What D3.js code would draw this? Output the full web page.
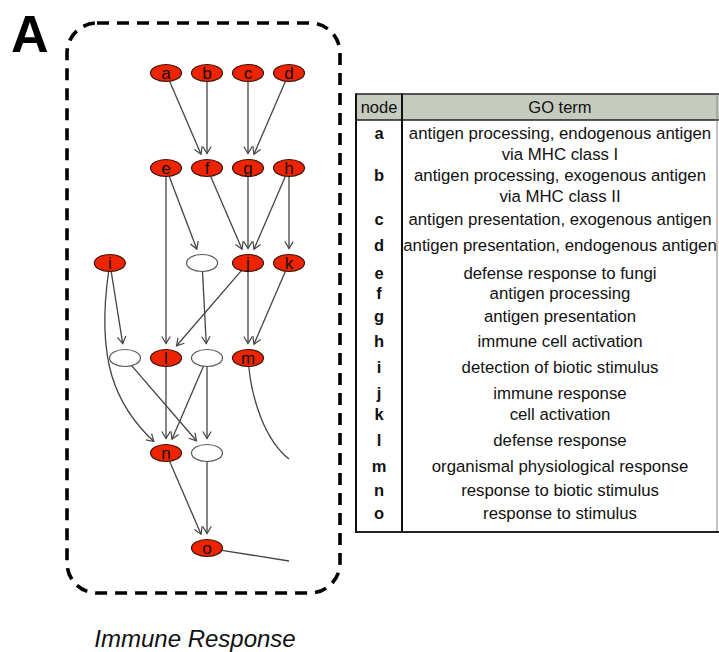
<!DOCTYPE html>
<html>
<head>
<meta charset="utf-8">
<script src="https://cdn.jsdelivr.net/npm/d3@7"></script>
<style>
  html, body { margin: 0; padding: 0; background: #fff; }
  svg { display: block; font-family: "Liberation Sans", Arial, Helvetica, sans-serif; }
</style>
</head>
<body>
<svg id="fig" width="719" height="652"></svg>
<script>
// ---- GO terms listed in the table ----
const termNodes = ["a","b","c","d","e","f","g","h","i","j","k","l","m","n","o"];
const termLines = [
  ["antigen processing, endogenous antigen", "via MHC class I"],
  ["antigen processing, exogenous antigen", "via MHC class II"],
  ["antigen presentation, exogenous antigen"],
  ["antigen presentation, endogenous antigen"],
  ["defense response to fungi"],
  ["antigen processing"],
  ["antigen presentation"],
  ["immune cell activation"],
  ["detection of biotic stimulus"],
  ["immune response"],
  ["cell activation"],
  ["defense response"],
  ["organismal physiological response"],
  ["response to biotic stimulus"],
  ["response to stimulus"]
];

// ---- DAG nodes (grid column / level); unlabeled nodes are uncoloured terms ----
const graphIds    = ["a","b","c","d","e","f","g","h","i","u1","j","k","u2","l","u3","m","n","u4","o"];
const graphLabels = ["a","b","c","d","e","f","g","h","i","","j","k","","l","","m","n","","o"];
const graphCols   = [0,1,2,3, 0,1,2,3, -1.37,0.88,2,3, -1,0,1,2, 0,1, 1];
const graphLevels = [0,0,0,0, 1,1,1,1, 2,2,2,2, 3,3,3,3, 4,4, 5];
const graphColoured = [1,1,1,1, 1,1,1,1, 1,0,1,1, 0,1,0,1, 1,0, 1];

// ---- directed edges (parent -> child) ----
const edgeSources = ["a","b","c","d","e","e","f","g","h","h","i","i","u1","j","j","k","u2","l","u3","u3","n","u4"];
const edgeTargets = ["f","f","g","g","l","u1","j","j","j","k","u2","n","u3","l","m","m","u4","n","n","u4","o","o"];
// bent edges: control points in grid units
const curvedEdges = { "i-n": [[-1.707, 3.02], [-1.244, 3.495]] };
// edges leaving the module (open ends, no arrowhead)
const outgoing = [
  { from: "m", to: [3, 4.063], ctrl: [[2.098, 3.442], [2.415, 3.863]] },
  { from: "o", to: [3, 5.137], ctrl: null }
];

// ---- layout ----
const svg = d3.select("#fig");
const x = d3.scaleLinear().domain([0, 3]).range([166, 289]);
const y = d3.scaleLinear().domain([0, 5]).range([73, 548]);
const RX = 15.5, RY = 8.5, GAP = 6;
const EDGE = "#444";

const nodes = graphIds.map((id, i) => ({
  id, label: graphLabels[i], cx: x(graphCols[i]), cy: y(graphLevels[i]), red: !!graphColoured[i]
}));
const byId = new Map(nodes.map(n => [n.id, n]));

// point on a node's ellipse in the direction of (px,py)
function rim(n, px, py, extra) {
  const dx = px - n.cx, dy = py - n.cy;
  const t = 1 / Math.sqrt((dx / RX) ** 2 + (dy / RY) ** 2);
  const len = Math.hypot(dx, dy);
  const e = (extra || 0) / len;
  return [n.cx + dx * (t + e), n.cy + dy * (t + e)];
}

// "A" panel letter
svg.append("text").attr("x", 11).attr("y", 52)
  .attr("font-size", 52).attr("font-weight", "bold").attr("fill", "#000").text("A");

// dashed module outline
svg.append("rect").attr("x", 67).attr("y", 23).attr("width", 273).attr("height", 570)
  .attr("rx", 30).attr("ry", 30)
  .attr("fill", "none").attr("stroke", "#000").attr("stroke-width", 3.6)
  .attr("stroke-dasharray", "12,8");

// arrowhead marker (open chevron)
svg.append("defs").append("marker")
  .attr("id", "arr").attr("markerUnits", "userSpaceOnUse")
  .attr("viewBox", "-9 -6 11 12").attr("refX", 0).attr("refY", 0)
  .attr("markerWidth", 11).attr("markerHeight", 12).attr("orient", "auto")
  .append("path").attr("d", "M-7,-4.2L0,0L-7,4.2")
  .attr("fill", "none").attr("stroke", EDGE).attr("stroke-width", 1.2);

const gEdges = svg.append("g").attr("fill", "none").attr("stroke", EDGE).attr("stroke-width", 1.3);

edgeSources.forEach((s, i) => {
  const a = byId.get(s), b = byId.get(edgeTargets[i]);
  const key = s + "-" + edgeTargets[i];
  const path = d3.path();
  if (curvedEdges[key]) {
    const [c1, c2] = curvedEdges[key].map(p => [x(p[0]), y(p[1])]);
    const p0 = rim(a, c1[0], c1[1]);
    const p3 = rim(b, c2[0], c2[1], GAP);
    path.moveTo(p0[0], p0[1]);
    path.bezierCurveTo(c1[0], c1[1], c2[0], c2[1], p3[0], p3[1]);
  } else {
    const p0 = rim(a, b.cx, b.cy);
    const p1 = rim(b, a.cx, a.cy, GAP);
    path.moveTo(p0[0], p0[1]);
    path.lineTo(p1[0], p1[1]);
  }
  gEdges.append("path").attr("d", path.toString()).attr("marker-end", "url(#arr)");
});

outgoing.forEach(o => {
  const a = byId.get(o.from);
  const end = [x(o.to[0]), y(o.to[1])];
  const path = d3.path();
  if (o.ctrl) {
    const [c1, c2] = o.ctrl.map(p => [x(p[0]), y(p[1])]);
    const p0 = rim(a, c1[0], c1[1]);
    path.moveTo(p0[0], p0[1]);
    path.bezierCurveTo(c1[0], c1[1], c2[0], c2[1], end[0], end[1]);
  } else {
    const p0 = rim(a, end[0], end[1]);
    path.moveTo(p0[0], p0[1]);
    path.lineTo(end[0], end[1]);
  }
  gEdges.append("path").attr("d", path.toString());
});

// nodes
const gNodes = svg.append("g").selectAll("g").data(nodes).join("g")
  .attr("transform", d => `translate(${d.cx},${d.cy})`);
gNodes.append("ellipse").attr("rx", RX).attr("ry", RY)
  .attr("fill", d => d.red ? "#ee2400" : "#fff")
  .attr("stroke", d => d.red ? "#3b1208" : "#555")
  .attr("stroke-width", 1.2);
gNodes.append("text").attr("text-anchor", "middle").attr("y", 5.5)
  .attr("font-size", 17).attr("fill", "#111").text(d => d.label);

// ---- table ----
const T = { left: 356, mid: 402, right: 717, top: 94, head: 120, bottom: 532 };
const rowCenter = [134, 176, 220, 246, 274, 294, 317, 342, 368, 394, 415, 441, 467, 491, 514];
const lineStep = 21.5;
const colNode = (T.left + T.mid) / 2, colTerm = 560;

const gt = svg.append("g");
gt.append("rect").attr("x", T.left).attr("y", T.top).attr("width", 719 - T.left).attr("height", T.head - T.top)
  .attr("fill", "#c5cbbe");
gt.append("line").attr("x1", T.left).attr("x2", 719).attr("y1", T.top).attr("y2", T.top)
  .attr("stroke", "#222").attr("stroke-width", 1.5);
gt.append("line").attr("x1", T.left).attr("x2", 719).attr("y1", T.head).attr("y2", T.head)
  .attr("stroke", "#222").attr("stroke-width", 1.5);
gt.append("line").attr("x1", T.right).attr("x2", T.right).attr("y1", T.top).attr("y2", T.bottom)
  .attr("stroke", "#888").attr("stroke-width", 1);
gt.append("line").attr("x1", T.left).attr("x2", T.left).attr("y1", T.top - 0.75).attr("y2", T.bottom)
  .attr("stroke", "#111").attr("stroke-width", 2);
gt.append("line").attr("x1", T.mid).attr("x2", T.mid).attr("y1", T.top - 0.75).attr("y2", T.bottom)
  .attr("stroke", "#111").attr("stroke-width", 2);
gt.append("line").attr("x1", T.left - 1).attr("x2", 719).attr("y1", T.bottom).attr("y2", T.bottom)
  .attr("stroke", "#222").attr("stroke-width", 2);

gt.append("text").attr("x", colNode).attr("y", 113).attr("text-anchor", "middle")
  .attr("font-size", 16.5).attr("fill", "#111").text("node");
gt.append("text").attr("x", colTerm).attr("y", 113).attr("text-anchor", "middle")
  .attr("font-size", 16.5).attr("fill", "#111").text("GO term");

termNodes.forEach((n, i) => {
  const base = rowCenter[i] + 4.5;
  gt.append("text").attr("x", colNode).attr("y", base).attr("text-anchor", "middle")
    .attr("font-size", 16.5).attr("font-weight", "bold").attr("fill", "#111").text(n);
  termLines[i].forEach((ln, k) => {
    gt.append("text").attr("x", colTerm).attr("y", base + k * lineStep).attr("text-anchor", "middle")
      .attr("font-size", 16.8).attr("fill", "#111").text(ln);
  });
});

// module caption
svg.append("text").attr("x", 195).attr("y", 647).attr("text-anchor", "middle")
  .attr("font-size", 24).attr("font-style", "italic").attr("fill", "#111").text("Immune Response");
</script>
</body>
</html>
